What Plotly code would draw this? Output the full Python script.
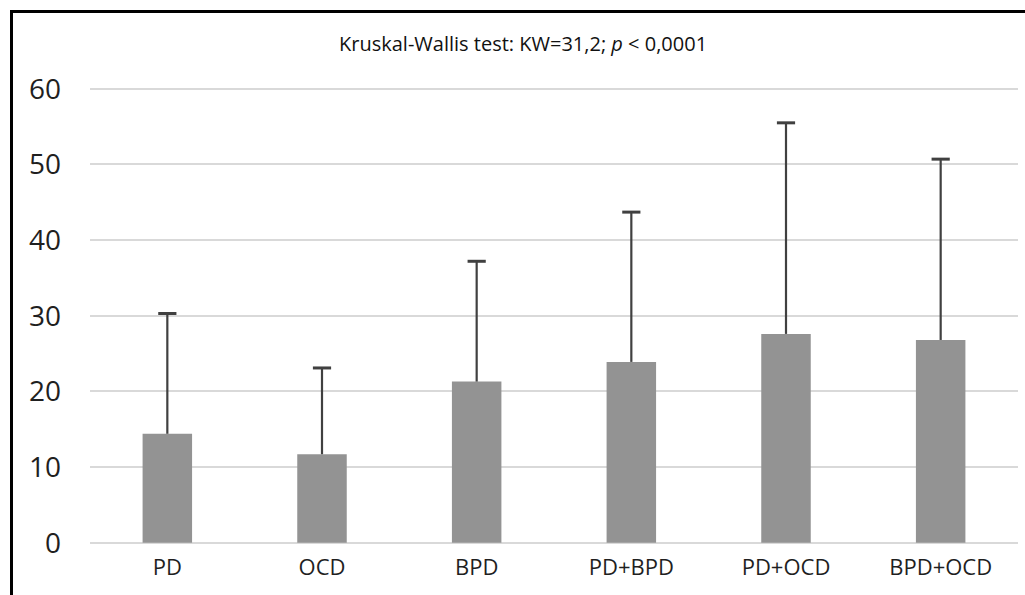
import plotly.graph_objects as go

categories = ["PD", "OCD", "BPD", "PD+BPD", "PD+OCD", "BPD+OCD"]
means = [14.4, 11.7, 21.3, 23.9, 27.6, 26.8]
sds = [15.9, 11.4, 15.9, 19.8, 27.9, 23.9]
y_ticks = [0, 10, 20, 30, 40, 50, 60]
title_text = "Kruskal-Wallis test: KW=31,2; <i>p</i> < 0,0001"

W, H = 1025, 595
ML, MR, MT, MB = 90, 7, 85, 50
pw = W - ML - MR
ph = H - MT - MB

def px_x(px):
    return (px - ML) / pw

def px_y(py):
    return (H - MB - py) / ph

uppers = [m + s for m, s in zip(means, sds)]
stem_x, stem_y = [], []
for c, m, u in zip(categories, means, uppers):
    stem_x += [c, c, None]
    stem_y += [m, u, None]

fig = go.Figure()
fig.add_trace(go.Bar(
    x=categories, y=means,
    marker=dict(color="#939393", line=dict(width=0)),
    width=0.32, hoverinfo="skip",
))
fig.add_trace(go.Scatter(
    x=stem_x, y=stem_y, mode="lines",
    line=dict(color="#404040", width=2.2), hoverinfo="skip",
))
fig.add_trace(go.Scatter(
    x=categories, y=uppers, mode="markers",
    marker=dict(symbol="line-ew", size=13, line=dict(color="#404040", width=3)),
    hoverinfo="skip",
))

fig.update_layout(
    width=W, height=H,
    margin=dict(l=ML, r=MR, t=MT, b=MB),
    paper_bgcolor="white", plot_bgcolor="white",
    showlegend=False,
    font=dict(family="Open Sans", color="#1f1f1f"),
    xaxis=dict(showgrid=False, showline=False, ticks="", zeroline=False,
               tickfont=dict(size=22, color="#1f1f1f"), range=[-0.5, 5.5],
               ticklabelstandoff=7),
    yaxis=dict(range=[-0.3, 60.5], tickvals=y_ticks, showgrid=True, gridcolor="#d9d9d9",
               gridwidth=2, zeroline=False, showline=False, ticks="",
               tickfont=dict(size=28, color="#1f1f1f"), ticklabelstandoff=28),
    annotations=[dict(text=title_text, xref="paper", yref="paper",
                      x=px_x(523), y=px_y(43), xanchor="center", yanchor="middle",
                      showarrow=False, font=dict(size=20, color="#111111"))],
    shapes=[
        dict(type="line", xref="paper", yref="paper", x0=px_x(10), x1=px_x(1030),
             y0=px_y(11.5), y1=px_y(11.5), line=dict(color="black", width=3)),
        dict(type="line", xref="paper", yref="paper", x0=px_x(11.5), x1=px_x(11.5),
             y0=px_y(10), y1=px_y(600), line=dict(color="black", width=3)),
    ],
)

fig.write_html("out.html")
